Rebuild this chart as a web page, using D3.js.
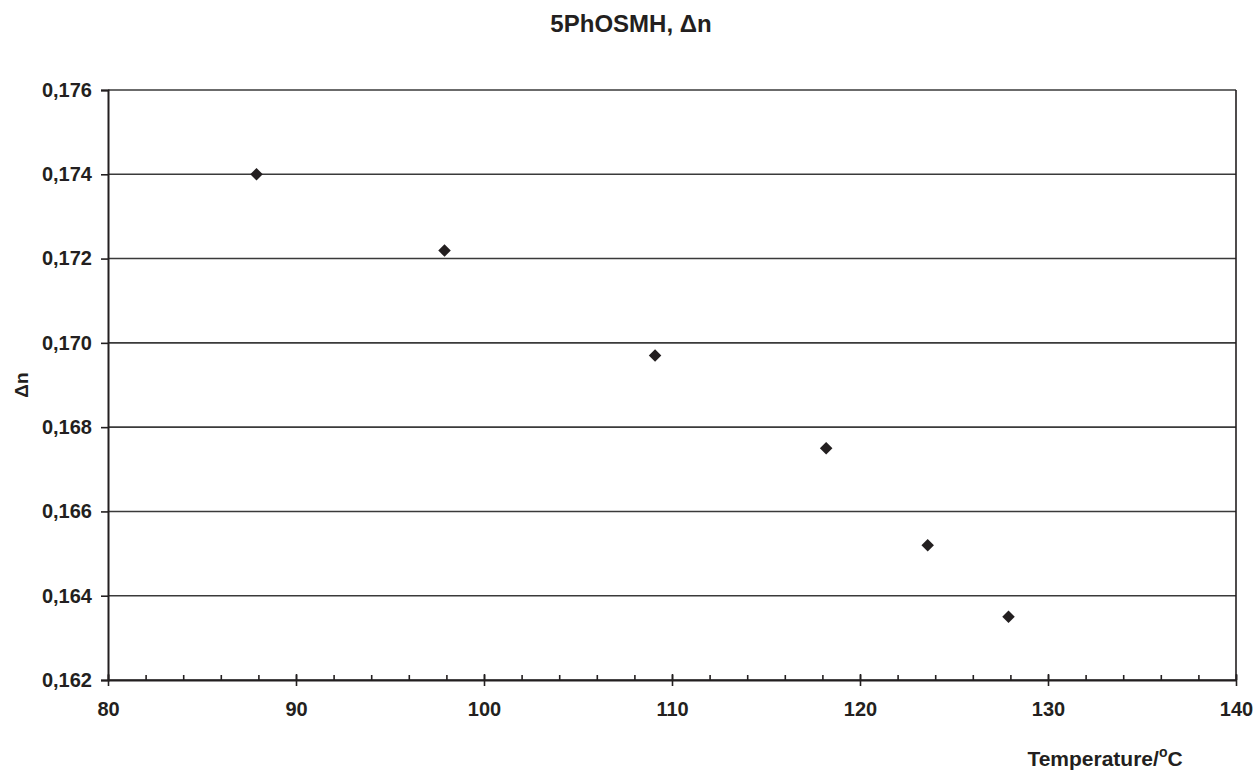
<!DOCTYPE html>
<html>
<head>
<meta charset="utf-8">
<script src="https://cdn.jsdelivr.net/npm/d3@7"></script>
<style>
  body { margin: 0; background: white; }
  text { font-family: 'Liberation Sans', Arial, sans-serif; font-weight: bold; fill: #231f20; }
</style>
</head>
<body>
<div id="chart"></div>
<script>
// temperature (°C) and birefringence
const temperature = [87.9, 97.9, 109.1, 118.2, 123.6, 127.9];
const deltaN = [0.1740, 0.17219, 0.1697, 0.1675, 0.1652, 0.1635];

const xTicks = [80, 90, 100, 110, 120, 130, 140];
const xMinorTicks = d3.range(80, 141, 2);
const yTicks = [0.162, 0.164, 0.166, 0.168, 0.170, 0.172, 0.174, 0.176];

let width = 1257,
    height = 772;

let margin = { top: 90, bottom: 92, left: 108, right: 21 };

let svg = d3.select('#chart')
            .append('svg')
            .attr('width', width)
            .attr('height', height)
            .style('background', 'white');

let xScale = d3.scaleLinear()
            .domain([80, 140])
            .range([margin.left, width - margin.right]);

let yScale = d3.scaleLinear()
            .domain([0.162, 0.176])
            .range([height - margin.bottom, margin.top]);

const fmt = d => d3.format('.3f')(d).replace('.', ',');

// horizontal grid lines
svg.append('g')
    .selectAll('line')
    .data(yTicks)
    .enter()
    .append('line')
    .attr('x1', margin.left)
    .attr('x2', width - margin.right)
    .attr('y1', d => yScale(d))
    .attr('y2', d => yScale(d))
    .attr('stroke', '#3a3a3a')
    .attr('stroke-width', 1.6);

// right border of the plot
svg.append('line')
    .attr('x1', width - margin.right)
    .attr('x2', width - margin.right)
    .attr('y1', margin.top)
    .attr('y2', height - margin.bottom)
    .attr('stroke', '#231f20')
    .attr('stroke-width', 1.6);

// y axis
let yAxis = svg.append('g')
    .attr('transform', `translate(${margin.left}, 0)`)
    .call(d3.axisLeft(yScale).tickValues(yTicks).tickFormat(fmt).tickSize(7).tickPadding(9));

yAxis.select('.domain').attr('stroke', '#231f20').attr('stroke-width', 2);
yAxis.selectAll('.tick line').attr('stroke', '#231f20').attr('stroke-width', 1.6);
yAxis.selectAll('.tick text').style('font-size', '20px').style('font-family', null).attr('fill', '#231f20');

// x axis: minor ticks inside
svg.append('g')
    .attr('transform', `translate(0, ${height - margin.bottom})`)
    .call(d3.axisBottom(xScale).tickValues(xMinorTicks).tickFormat('').tickSizeInner(-5).tickSizeOuter(0))
    .call(g => g.select('.domain').remove())
    .selectAll('.tick line').attr('stroke', '#231f20').attr('stroke-width', 1.6);

// x axis: major ticks crossing the axis
let xAxis = svg.append('g')
    .attr('transform', `translate(0, ${height - margin.bottom})`)
    .call(d3.axisBottom(xScale).tickValues(xTicks).tickFormat(d3.format('d')).tickSize(6).tickSizeOuter(0).tickPadding(16));

xAxis.select('.domain').attr('stroke', '#231f20').attr('stroke-width', 2);
xAxis.selectAll('.tick line').attr('y1', -6).attr('stroke', '#231f20').attr('stroke-width', 1.6);
xAxis.selectAll('.tick text').style('font-size', '20px').style('font-family', null).attr('fill', '#231f20');

// data points as diamonds
let points = temperature.map((t, i) => ({ t: t, n: deltaN[i] }));

svg.append('g')
    .selectAll('path')
    .data(points)
    .enter()
    .append('path')
    .attr('d', d3.symbol().type(d3.symbolDiamond2).size(100))
    .attr('transform', d => `translate(${xScale(d.t)}, ${yScale(d.n)})`)
    .attr('fill', '#231f20');

// title
svg.append('text')
    .attr('x', 631)
    .attr('y', 32)
    .attr('text-anchor', 'middle')
    .style('font-size', '24px')
    .text('5PhOSMH, Δn');

// y label
svg.append('text')
    .attr('transform', `translate(28, ${(margin.top + height - margin.bottom) / 2}) rotate(-90)`)
    .attr('text-anchor', 'middle')
    .style('font-size', '19px')
    .text('Δn');

// x label
let xl = svg.append('text')
    .attr('x', 1105)
    .attr('y', 766)
    .attr('text-anchor', 'middle')
    .style('font-size', '21px');
xl.append('tspan').text('Temperature/');
xl.append('tspan').attr('dy', -9).style('font-size', '14px').text('o');
xl.append('tspan').attr('dy', 9).text('C');
</script>
</body>
</html>
